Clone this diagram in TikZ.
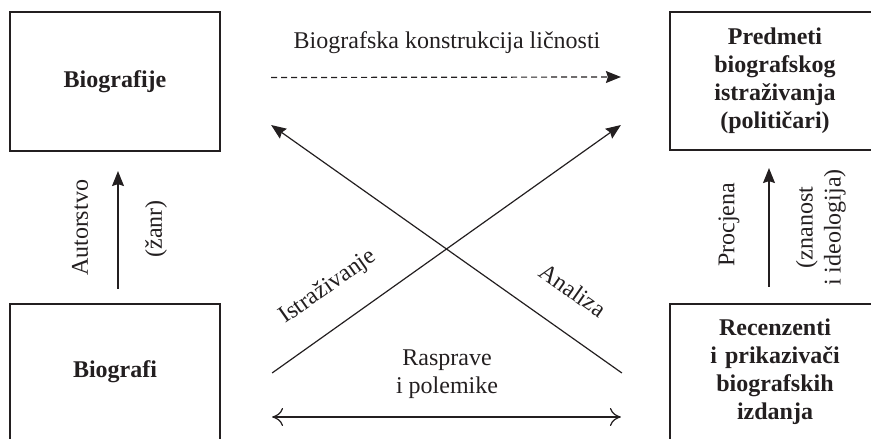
\documentclass[tikz,border=0pt]{standalone}
\usepackage{fontspec}
\setmainfont{Liberation Serif}
\usepackage{tikz}
\usetikzlibrary{arrows.meta}
\usetikzlibrary{positioning}
\definecolor{ink}{RGB}{35,31,32}
\tikzstyle{actor}=[draw=ink, line width=2.2pt, minimum width=210pt, text width=190pt,
    align=center, inner sep=0pt, text=ink, font=\bfseries\fontsize{24}{28}\selectfont]
\tikzstyle{relation}=[align=center, inner sep=0pt, text=ink, font=\fontsize{24}{28}\selectfont]
\tikzstyle{flow}=[draw=ink, line width=1.2pt, -{Stealth[length=15pt, width=12pt, inset=2pt]}]
\tikzstyle{debate}=[draw=ink, line width=1.2pt,
    {Computer Modern Rightarrow[length=11pt, width=18pt]}-{Computer Modern Rightarrow[length=11pt, width=18pt]}]
\begin{document}
\begin{tikzpicture}[x=1pt,y=1pt]
          \useasboundingbox (0,0) rectangle (871,439);
          \node[actor, minimum height=139pt] (biographies) at (115,357.5){Biografije};
          \node[actor, minimum height=138pt] (subjects) at (775,358){Predmeti\\biografskog\\istraživanja\\(političari)};
          \node[actor, minimum height=136pt] (biographers) at (115,67){Biografi};
          \node[actor, minimum height=136pt] (reviewers) at (775,67){Recenzenti\\i prikazivači\\biografskih\\izdanja};
          \node[relation] (construction) at (447,396){Biografska konstrukcija ličnosti};
          \node[relation, rotate=90] (authorship) at (80,211){Autorstvo};
          \node[relation, rotate=90] (genre) at (156,210){(žanr)};
          \node[relation, rotate=90] (assessment) at (729,214){Procjena};
          \node[relation, rotate=90] (science) at (821,211.5){(znanost\\i ideologija)};
          \node[relation, rotate=35.2] (research) at (328,152){Istraživanje};
          \node[relation, rotate=-35.2] (analysis) at (573,149){Analiza};
          \node[relation] (debates) at (447,64.5){Rasprave\\i polemike};
          \draw[flow, dash pattern=on 6pt off 4pt]([shift={(50pt,4pt)}]biographies.east) -- ([shift={(-48pt,4pt)}]subjects.west);
          \draw[flow]([xshift=3pt, yshift=14pt]biographers.north) -- ([xshift=3pt, yshift=-19pt]biographies.south);
          \draw[flow]([xshift=-6pt, yshift=16pt]reviewers.north) -- ([xshift=-6pt, yshift=-17pt]subjects.south);
          \draw[flow]([shift={(51pt,-1pt)}]biographers.east) -- ([shift={(-48pt,-44pt)}]subjects.west);
          \draw[flow]([shift={(-47pt,-1pt)}]reviewers.west) -- ([shift={(50pt,-43.5pt)}]biographies.east);
          \draw[debate]([shift={(51pt,-45pt)}]biographers.east) -- ([shift={(-48pt,-45pt)}]reviewers.west);
        \end{tikzpicture}
\end{document}
